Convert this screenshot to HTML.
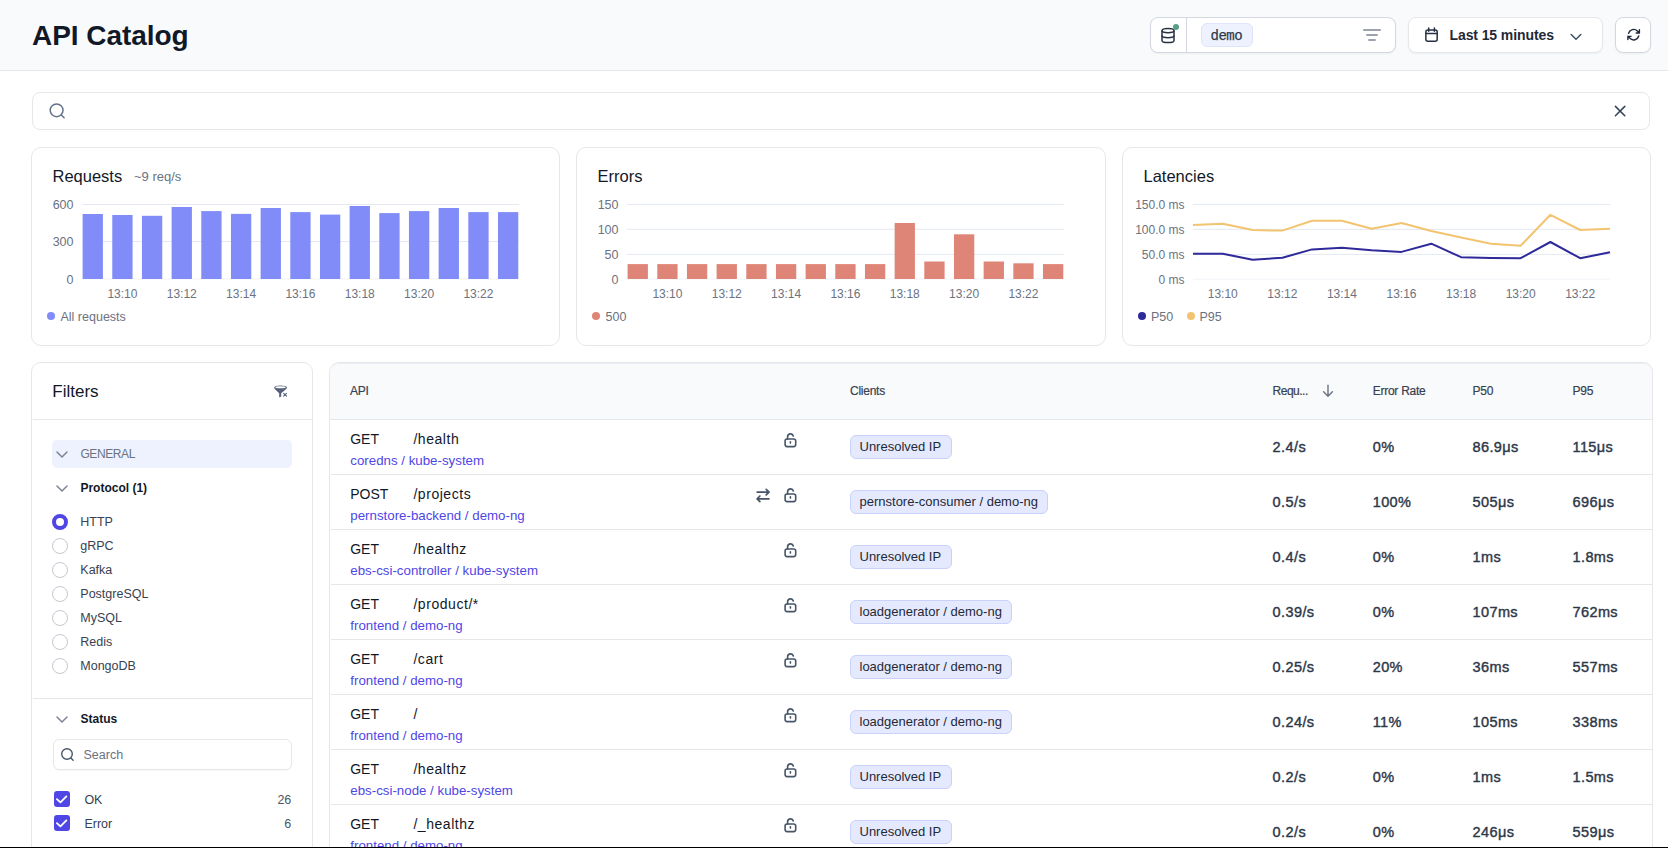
<!DOCTYPE html>
<html><head><meta charset="utf-8"><title>API Catalog</title>
<style>
html,body{margin:0;padding:0;}
body{width:1668px;height:848px;overflow:hidden;position:relative;background:#fff;font-family:'Liberation Sans', sans-serif;}
.t{position:absolute;white-space:nowrap;}
.chip{position:absolute;height:24px;box-sizing:border-box;padding:0 9.5px 0 8.5px;background:#e5e9fd;border:1px solid #c9d1fa;border-radius:6px;font-size:13px;line-height:22px;color:#1f2937;white-space:nowrap;font-family:'Liberation Sans', sans-serif;}
</style></head><body>
<div style="position:absolute;left:0px;top:0px;width:1668px;height:71px;box-sizing:border-box;background:#f9fafb;border-bottom:1px solid #e5e7eb"></div>
<div class="t" style="left:32px;top:17.79px;font-size:28px;line-height:35px;color:#111827;font-weight:700;font-family:'Liberation Sans', sans-serif;letter-spacing:-0.05px;">API Catalog</div>
<div style="position:absolute;left:1150px;top:17px;width:246px;height:36px;box-sizing:border-box;background:#fff;border:1px solid #d4d7e0;border-radius:8px;box-shadow:0 1px 2px rgba(16,24,40,0.05)"></div>
<div style="position:absolute;left:1186px;top:18px;width:1px;height:34.5px;box-sizing:border-box;background:#d4d7e0"></div>
<svg style="position:absolute;left:1160px;top:26.6px;overflow:visible" width="16" height="17" viewBox="0 0 16 17"><g fill="none" stroke="#283044" stroke-width="1.5"><ellipse cx="8" cy="3.6" rx="6" ry="2.2"/><path d="M2 3.6v9.8c0 1.2 2.7 2.2 6 2.2s6-1 6-2.2V3.6"/><path d="M2 8.5c0 1.2 2.7 2.2 6 2.2s6-1 6-2.2"/></g></svg>
<div style="position:absolute;left:1173px;top:24px;width:6px;height:6px;box-sizing:border-box;background:#5a9e85;border-radius:50%"></div>
<div style="position:absolute;left:1201px;top:23px;width:51.5px;height:24px;box-sizing:border-box;background:#eef2ff;border:1px solid #dfe4fb;border-radius:6px"></div>
<div class="t" style="left:1210.5px;top:27.35px;font-size:14px;line-height:18px;color:#2f3a4b;font-weight:400;font-family:'Liberation Mono', monospace;letter-spacing:-0.5px;-webkit-text-stroke:0.25px #2f3a4b;">demo</div>
<div style="position:absolute;left:1363.3px;top:29.1px;width:17.4px;height:1.7px;box-sizing:border-box;background:#9ca3af;border-radius:1px"></div>
<div style="position:absolute;left:1366.2px;top:34.1px;width:11.6px;height:1.7px;box-sizing:border-box;background:#9ca3af;border-radius:1px"></div>
<div style="position:absolute;left:1368.3px;top:39.1px;width:7.3px;height:1.7px;box-sizing:border-box;background:#9ca3af;border-radius:1px"></div>
<div style="position:absolute;left:1408px;top:17px;width:195px;height:36px;box-sizing:border-box;background:#fff;border:1px solid #e5e7eb;border-radius:8px;box-shadow:0 1px 2px rgba(16,24,40,0.05)"></div>
<svg style="position:absolute;left:1424.5px;top:26.5px;overflow:visible" width="14" height="16" viewBox="0 0 14 16"><g fill="none" stroke="#283044" stroke-width="1.5" stroke-linecap="round"><rect x="0.85" y="2.95" width="11.35" height="11.2" rx="2"/><path d="M0.85 6.6h11.35M3.7 1v3.2M9.4 1v3.2"/></g></svg>
<div class="t" style="left:1449.5px;top:26.15px;font-size:14px;line-height:18px;color:#1f2937;font-weight:700;font-family:'Liberation Sans', sans-serif;letter-spacing:-0.1px;">Last 15 minutes</div>
<svg style="position:absolute;left:1570px;top:32.5px;overflow:visible" width="12" height="8" viewBox="0 0 12 8"><path d="M1.2 1.5l4.8 4.8 4.8-4.8" fill="none" stroke="#475569" stroke-width="1.6" stroke-linecap="round" stroke-linejoin="round"/></svg>
<div style="position:absolute;left:1615px;top:17px;width:36px;height:36px;box-sizing:border-box;background:#fff;border:1px solid #d4d7e0;border-radius:8px;box-shadow:0 1px 2px rgba(16,24,40,0.05)"></div>
<svg style="position:absolute;left:1625.6px;top:27.2px" width="15.3" height="15.3" viewBox="0 0 24 24"><path d="M16.023 9.348h4.992v-.001M2.985 19.644v-4.992m0 0h4.992m-4.993 0l3.181 3.183a8.25 8.25 0 0013.803-3.7M4.031 9.865a8.25 8.25 0 0113.803-3.7l3.181 3.182m0-4.991v4.99" fill="none" stroke="#1e293b" stroke-width="2.2" stroke-linecap="round" stroke-linejoin="round"/></svg>
<div style="position:absolute;left:32px;top:92px;width:1618px;height:38px;box-sizing:border-box;background:#fff;border:1px solid #e5e7eb;border-radius:8px"></div>
<svg style="position:absolute;left:48px;top:102px;overflow:visible" width="18" height="18" viewBox="0 0 18 18"><g fill="none" stroke="#64748b" stroke-width="1.5" stroke-linecap="round"><circle cx="8.6" cy="8.3" r="6.4"/><path d="M13.3 13l2.8 2.8"/></g></svg>
<svg style="position:absolute;left:1613px;top:104px;overflow:visible" width="14" height="14" viewBox="0 0 14 14"><path d="M2.4 2.4l9.4 9.4M11.8 2.4l-9.4 9.4" fill="none" stroke="#334155" stroke-width="1.5" stroke-linecap="round"/></svg>
<div style="position:absolute;left:31px;top:147px;width:529px;height:199px;box-sizing:border-box;background:#fff;border:1px solid #e5e7eb;border-radius:10px"></div>
<div style="position:absolute;left:576px;top:147px;width:530px;height:199px;box-sizing:border-box;background:#fff;border:1px solid #e5e7eb;border-radius:10px"></div>
<div style="position:absolute;left:1122px;top:147px;width:529px;height:199px;box-sizing:border-box;background:#fff;border:1px solid #e5e7eb;border-radius:10px"></div>
<div class="t" style="left:52.5px;top:165.78px;font-size:16.5px;line-height:21px;color:#111827;font-weight:400;font-family:'Liberation Sans', sans-serif;">Requests</div>
<div class="t" style="left:134px;top:168.99px;font-size:13px;line-height:16px;color:#6b7280;font-weight:400;font-family:'Liberation Sans', sans-serif;">~9 req/s</div>
<div class="t" style="right:1594.5px;top:197.47px;font-size:12.5px;line-height:16px;color:#6b7280;font-weight:400;font-family:'Liberation Sans', sans-serif;">600</div>
<div class="t" style="right:1594.5px;top:234.47px;font-size:12.5px;line-height:16px;color:#6b7280;font-weight:400;font-family:'Liberation Sans', sans-serif;">300</div>
<div class="t" style="right:1594.5px;top:271.77px;font-size:12.5px;line-height:16px;color:#6b7280;font-weight:400;font-family:'Liberation Sans', sans-serif;">0</div>
<svg style="position:absolute;left:0px;top:0px;overflow:visible" width="1668" height="400" viewBox="0 0 1668 400"><path d="M82 204.5H519" stroke="#e3e8f2" stroke-width="1"/><path d="M82 241.5H519" stroke="#e3e8f2" stroke-width="1"/><path d="M82 279H519" stroke="#f1f3f8" stroke-width="1"/><rect x="82.60" y="214" width="20.3" height="65.0" fill="#818cf8"/><rect x="112.27" y="215" width="20.3" height="64.0" fill="#818cf8"/><rect x="141.94" y="215.8" width="20.3" height="63.2" fill="#818cf8"/><rect x="171.61" y="207" width="20.3" height="72.0" fill="#818cf8"/><rect x="201.28" y="211.1" width="20.3" height="67.9" fill="#818cf8"/><rect x="230.95" y="213.9" width="20.3" height="65.1" fill="#818cf8"/><rect x="260.62" y="208" width="20.3" height="71.0" fill="#818cf8"/><rect x="290.29" y="212.1" width="20.3" height="66.9" fill="#818cf8"/><rect x="319.96" y="214.6" width="20.3" height="64.4" fill="#818cf8"/><rect x="349.63" y="206" width="20.3" height="73.0" fill="#818cf8"/><rect x="379.30" y="213.1" width="20.3" height="65.9" fill="#818cf8"/><rect x="408.97" y="211.1" width="20.3" height="67.9" fill="#818cf8"/><rect x="438.64" y="208" width="20.3" height="71.0" fill="#818cf8"/><rect x="468.31" y="212.1" width="20.3" height="66.9" fill="#818cf8"/><rect x="497.98" y="212.1" width="20.3" height="66.9" fill="#818cf8"/></svg>
<div class="t" style="left:-27.58px;width:300px;text-align:center;top:287.34px;font-size:12px;line-height:15px;color:#6b7280;font-weight:400;font-family:'Liberation Sans', sans-serif;">13:10</div>
<div class="t" style="left:31.75999999999999px;width:300px;text-align:center;top:287.34px;font-size:12px;line-height:15px;color:#6b7280;font-weight:400;font-family:'Liberation Sans', sans-serif;">13:12</div>
<div class="t" style="left:91.10000000000002px;width:300px;text-align:center;top:287.34px;font-size:12px;line-height:15px;color:#6b7280;font-weight:400;font-family:'Liberation Sans', sans-serif;">13:14</div>
<div class="t" style="left:150.44px;width:300px;text-align:center;top:287.34px;font-size:12px;line-height:15px;color:#6b7280;font-weight:400;font-family:'Liberation Sans', sans-serif;">13:16</div>
<div class="t" style="left:209.78000000000003px;width:300px;text-align:center;top:287.34px;font-size:12px;line-height:15px;color:#6b7280;font-weight:400;font-family:'Liberation Sans', sans-serif;">13:18</div>
<div class="t" style="left:269.12px;width:300px;text-align:center;top:287.34px;font-size:12px;line-height:15px;color:#6b7280;font-weight:400;font-family:'Liberation Sans', sans-serif;">13:20</div>
<div class="t" style="left:328.46000000000004px;width:300px;text-align:center;top:287.34px;font-size:12px;line-height:15px;color:#6b7280;font-weight:400;font-family:'Liberation Sans', sans-serif;">13:22</div>
<div style="position:absolute;left:47px;top:312px;width:8px;height:8px;box-sizing:border-box;background:#818cf8;border-radius:50%"></div>
<div class="t" style="left:60.5px;top:308.97px;font-size:12.5px;line-height:16px;color:#6b7280;font-weight:400;font-family:'Liberation Sans', sans-serif;">All requests</div>
<div class="t" style="left:597.5px;top:165.78px;font-size:16.5px;line-height:21px;color:#111827;font-weight:400;font-family:'Liberation Sans', sans-serif;">Errors</div>
<div class="t" style="right:1049.5px;top:197.37px;font-size:12.5px;line-height:16px;color:#6b7280;font-weight:400;font-family:'Liberation Sans', sans-serif;">150</div>
<div class="t" style="right:1049.5px;top:222.27px;font-size:12.5px;line-height:16px;color:#6b7280;font-weight:400;font-family:'Liberation Sans', sans-serif;">100</div>
<div class="t" style="right:1049.5px;top:247.37px;font-size:12.5px;line-height:16px;color:#6b7280;font-weight:400;font-family:'Liberation Sans', sans-serif;">50</div>
<div class="t" style="right:1049.5px;top:271.97px;font-size:12.5px;line-height:16px;color:#6b7280;font-weight:400;font-family:'Liberation Sans', sans-serif;">0</div>
<svg style="position:absolute;left:0px;top:0px;overflow:visible" width="1668" height="400" viewBox="0 0 1668 400"><path d="M627 204.4H1064" stroke="#e3e8f2" stroke-width="1"/><path d="M627 229.3H1064" stroke="#e3e8f2" stroke-width="1"/><path d="M627 254.4H1064" stroke="#e3e8f2" stroke-width="1"/><path d="M627 279H1064" stroke="#f1f3f8" stroke-width="1"/><rect x="627.60" y="264.1" width="20.3" height="14.9" fill="#df8577"/><rect x="657.27" y="264.1" width="20.3" height="14.9" fill="#df8577"/><rect x="686.94" y="264.1" width="20.3" height="14.9" fill="#df8577"/><rect x="716.61" y="264.1" width="20.3" height="14.9" fill="#df8577"/><rect x="746.28" y="264.1" width="20.3" height="14.9" fill="#df8577"/><rect x="775.95" y="264.1" width="20.3" height="14.9" fill="#df8577"/><rect x="805.62" y="264.1" width="20.3" height="14.9" fill="#df8577"/><rect x="835.29" y="264.1" width="20.3" height="14.9" fill="#df8577"/><rect x="864.96" y="264.1" width="20.3" height="14.9" fill="#df8577"/><rect x="894.63" y="223" width="20.3" height="56.0" fill="#df8577"/><rect x="924.30" y="261.5" width="20.3" height="17.5" fill="#df8577"/><rect x="953.97" y="234.3" width="20.3" height="44.7" fill="#df8577"/><rect x="983.64" y="261.5" width="20.3" height="17.5" fill="#df8577"/><rect x="1013.31" y="263.3" width="20.3" height="15.7" fill="#df8577"/><rect x="1042.98" y="264.1" width="20.3" height="14.9" fill="#df8577"/></svg>
<div class="t" style="left:517.42px;width:300px;text-align:center;top:287.34px;font-size:12px;line-height:15px;color:#6b7280;font-weight:400;font-family:'Liberation Sans', sans-serif;">13:10</div>
<div class="t" style="left:576.76px;width:300px;text-align:center;top:287.34px;font-size:12px;line-height:15px;color:#6b7280;font-weight:400;font-family:'Liberation Sans', sans-serif;">13:12</div>
<div class="t" style="left:636.1px;width:300px;text-align:center;top:287.34px;font-size:12px;line-height:15px;color:#6b7280;font-weight:400;font-family:'Liberation Sans', sans-serif;">13:14</div>
<div class="t" style="left:695.44px;width:300px;text-align:center;top:287.34px;font-size:12px;line-height:15px;color:#6b7280;font-weight:400;font-family:'Liberation Sans', sans-serif;">13:16</div>
<div class="t" style="left:754.78px;width:300px;text-align:center;top:287.34px;font-size:12px;line-height:15px;color:#6b7280;font-weight:400;font-family:'Liberation Sans', sans-serif;">13:18</div>
<div class="t" style="left:814.12px;width:300px;text-align:center;top:287.34px;font-size:12px;line-height:15px;color:#6b7280;font-weight:400;font-family:'Liberation Sans', sans-serif;">13:20</div>
<div class="t" style="left:873.46px;width:300px;text-align:center;top:287.34px;font-size:12px;line-height:15px;color:#6b7280;font-weight:400;font-family:'Liberation Sans', sans-serif;">13:22</div>
<div style="position:absolute;left:592px;top:312px;width:8px;height:8px;box-sizing:border-box;background:#df8577;border-radius:50%"></div>
<div class="t" style="left:605.5px;top:308.97px;font-size:12.5px;line-height:16px;color:#6b7280;font-weight:400;font-family:'Liberation Sans', sans-serif;">500</div>
<div class="t" style="left:1143.5px;top:165.78px;font-size:16.5px;line-height:21px;color:#111827;font-weight:400;font-family:'Liberation Sans', sans-serif;">Latencies</div>
<div class="t" style="right:483.5px;top:198.04px;font-size:12px;line-height:15px;color:#6b7280;font-weight:400;font-family:'Liberation Sans', sans-serif;">150.0 ms</div>
<div class="t" style="right:483.5px;top:222.94px;font-size:12px;line-height:15px;color:#6b7280;font-weight:400;font-family:'Liberation Sans', sans-serif;">100.0 ms</div>
<div class="t" style="right:483.5px;top:248.04px;font-size:12px;line-height:15px;color:#6b7280;font-weight:400;font-family:'Liberation Sans', sans-serif;">50.0 ms</div>
<div class="t" style="right:483.5px;top:272.84px;font-size:12px;line-height:15px;color:#6b7280;font-weight:400;font-family:'Liberation Sans', sans-serif;">0 ms</div>
<svg style="position:absolute;left:0px;top:0px;overflow:visible" width="1668" height="400" viewBox="0 0 1668 400"><path d="M1193 204.4H1610" stroke="#e3e8f2" stroke-width="1"/><path d="M1193 229.3H1610" stroke="#e3e8f2" stroke-width="1"/><path d="M1193 254.4H1610" stroke="#e3e8f2" stroke-width="1"/><path d="M1193 279.2H1610" stroke="#f1f3f8" stroke-width="1"/><polyline points="1193.0,225.0 1222.8,223.8 1252.6,230.1 1282.4,230.6 1312.1,220.7 1341.9,220.7 1371.7,228.8 1401.5,223.0 1431.3,231.0 1461.1,237.5 1490.9,243.7 1520.6,245.8 1550.4,214.8 1580.2,230.0 1610.0,228.8" fill="none" stroke="#f3c46f" stroke-width="2" stroke-linejoin="round"/><polyline points="1193.0,253.7 1222.8,253.7 1252.6,259.7 1282.4,257.7 1312.1,249.4 1341.9,247.8 1371.7,250.3 1401.5,251.9 1431.3,243.7 1461.1,257.2 1490.9,258.0 1520.6,258.2 1550.4,242.0 1580.2,258.2 1610.0,252.3" fill="none" stroke="#2f2a99" stroke-width="2" stroke-linejoin="round"/></svg>
<div class="t" style="left:1072.786px;width:300px;text-align:center;top:287.34px;font-size:12px;line-height:15px;color:#6b7280;font-weight:400;font-family:'Liberation Sans', sans-serif;">13:10</div>
<div class="t" style="left:1132.358px;width:300px;text-align:center;top:287.34px;font-size:12px;line-height:15px;color:#6b7280;font-weight:400;font-family:'Liberation Sans', sans-serif;">13:12</div>
<div class="t" style="left:1191.93px;width:300px;text-align:center;top:287.34px;font-size:12px;line-height:15px;color:#6b7280;font-weight:400;font-family:'Liberation Sans', sans-serif;">13:14</div>
<div class="t" style="left:1251.502px;width:300px;text-align:center;top:287.34px;font-size:12px;line-height:15px;color:#6b7280;font-weight:400;font-family:'Liberation Sans', sans-serif;">13:16</div>
<div class="t" style="left:1311.074px;width:300px;text-align:center;top:287.34px;font-size:12px;line-height:15px;color:#6b7280;font-weight:400;font-family:'Liberation Sans', sans-serif;">13:18</div>
<div class="t" style="left:1370.646px;width:300px;text-align:center;top:287.34px;font-size:12px;line-height:15px;color:#6b7280;font-weight:400;font-family:'Liberation Sans', sans-serif;">13:20</div>
<div class="t" style="left:1430.218px;width:300px;text-align:center;top:287.34px;font-size:12px;line-height:15px;color:#6b7280;font-weight:400;font-family:'Liberation Sans', sans-serif;">13:22</div>
<div style="position:absolute;left:1137.5px;top:312px;width:8px;height:8px;box-sizing:border-box;background:#2f2a99;border-radius:50%"></div>
<div class="t" style="left:1151px;top:308.97px;font-size:12.5px;line-height:16px;color:#6b7280;font-weight:400;font-family:'Liberation Sans', sans-serif;">P50</div>
<div style="position:absolute;left:1186.8px;top:312px;width:8px;height:8px;box-sizing:border-box;background:#f3c46f;border-radius:50%"></div>
<div class="t" style="left:1199.5px;top:308.97px;font-size:12.5px;line-height:16px;color:#6b7280;font-weight:400;font-family:'Liberation Sans', sans-serif;">P95</div>
<div style="position:absolute;left:31px;top:362px;width:282px;height:520px;box-sizing:border-box;background:#fff;border:1px solid #e5e7eb;border-radius:10px"></div>
<div class="t" style="left:52.3px;top:380.91px;font-size:17px;line-height:21px;color:#111827;font-weight:400;font-family:'Liberation Sans', sans-serif;">Filters</div>
<svg style="position:absolute;left:272px;top:385px;overflow:visible" width="17" height="15" viewBox="0 0 17 15"><g fill="#556178"><ellipse cx="8.55" cy="2.5" rx="6.45" ry="2.1"/><path d="M2.3 3.2C3.5 5 5.5 6.6 7.2 8.2V12.4L9.2 11.6V8.2C11 6.6 13.4 5 14.8 3.2Z"/><ellipse cx="8.5" cy="2.2" rx="5.2" ry="0.95" fill="#fff"/></g><path d="M11.6 8.3l2.9 2.9M14.5 8.3l-2.9 2.9" stroke="#556178" stroke-width="1.1" stroke-linecap="round"/></svg>
<div style="position:absolute;left:32.5px;top:419px;width:279px;height:1px;box-sizing:border-box;background:#e5e7eb"></div>
<div style="position:absolute;left:52px;top:440px;width:240px;height:28px;box-sizing:border-box;background:#eef2fe;border-radius:5px"></div>
<svg style="position:absolute;left:56px;top:450.5px;overflow:visible" width="12" height="8" viewBox="0 0 12 8"><path d="M1 1l5 5 5-5" fill="none" stroke="#7b8497" stroke-width="1.5" stroke-linecap="round" stroke-linejoin="round"/></svg>
<div class="t" style="left:80.4px;top:446.74px;font-size:12px;line-height:15px;color:#6b7280;font-weight:400;font-family:'Liberation Sans', sans-serif;letter-spacing:-0.4px;">GENERAL</div>
<svg style="position:absolute;left:56px;top:484.5px;overflow:visible" width="12" height="8" viewBox="0 0 12 8"><path d="M1 1l5 5 5-5" fill="none" stroke="#7b8497" stroke-width="1.5" stroke-linecap="round" stroke-linejoin="round"/></svg>
<div class="t" style="left:80.4px;top:481.04px;font-size:12px;line-height:15px;color:#111827;font-weight:700;font-family:'Liberation Sans', sans-serif;">Protocol (1)</div>
<div style="position:absolute;left:52px;top:514px;width:16px;height:16px;box-sizing:border-box;border:4px solid #4f46e5;border-radius:50%;background:#fff"></div>
<div class="t" style="left:80.3px;top:513.97px;font-size:12.5px;line-height:16px;color:#374151;font-weight:400;font-family:'Liberation Sans', sans-serif;">HTTP</div>
<div style="position:absolute;left:52px;top:538px;width:16px;height:16px;box-sizing:border-box;border:1px solid #c5c9d2;border-radius:50%;background:#fff"></div>
<div class="t" style="left:80.3px;top:537.97px;font-size:12.5px;line-height:16px;color:#374151;font-weight:400;font-family:'Liberation Sans', sans-serif;">gRPC</div>
<div style="position:absolute;left:52px;top:562px;width:16px;height:16px;box-sizing:border-box;border:1px solid #c5c9d2;border-radius:50%;background:#fff"></div>
<div class="t" style="left:80.3px;top:561.97px;font-size:12.5px;line-height:16px;color:#374151;font-weight:400;font-family:'Liberation Sans', sans-serif;">Kafka</div>
<div style="position:absolute;left:52px;top:586px;width:16px;height:16px;box-sizing:border-box;border:1px solid #c5c9d2;border-radius:50%;background:#fff"></div>
<div class="t" style="left:80.3px;top:585.97px;font-size:12.5px;line-height:16px;color:#374151;font-weight:400;font-family:'Liberation Sans', sans-serif;">PostgreSQL</div>
<div style="position:absolute;left:52px;top:610px;width:16px;height:16px;box-sizing:border-box;border:1px solid #c5c9d2;border-radius:50%;background:#fff"></div>
<div class="t" style="left:80.3px;top:609.97px;font-size:12.5px;line-height:16px;color:#374151;font-weight:400;font-family:'Liberation Sans', sans-serif;">MySQL</div>
<div style="position:absolute;left:52px;top:634px;width:16px;height:16px;box-sizing:border-box;border:1px solid #c5c9d2;border-radius:50%;background:#fff"></div>
<div class="t" style="left:80.3px;top:633.97px;font-size:12.5px;line-height:16px;color:#374151;font-weight:400;font-family:'Liberation Sans', sans-serif;">Redis</div>
<div style="position:absolute;left:52px;top:658px;width:16px;height:16px;box-sizing:border-box;border:1px solid #c5c9d2;border-radius:50%;background:#fff"></div>
<div class="t" style="left:80.3px;top:657.97px;font-size:12.5px;line-height:16px;color:#374151;font-weight:400;font-family:'Liberation Sans', sans-serif;">MongoDB</div>
<div style="position:absolute;left:32.5px;top:698px;width:279px;height:1px;box-sizing:border-box;background:#e5e7eb"></div>
<svg style="position:absolute;left:56px;top:715.5px;overflow:visible" width="12" height="8" viewBox="0 0 12 8"><path d="M1 1l5 5 5-5" fill="none" stroke="#7b8497" stroke-width="1.5" stroke-linecap="round" stroke-linejoin="round"/></svg>
<div class="t" style="left:80.5px;top:711.54px;font-size:12px;line-height:15px;color:#111827;font-weight:700;font-family:'Liberation Sans', sans-serif;">Status</div>
<div style="position:absolute;left:52.5px;top:738.5px;width:239.5px;height:31.5px;box-sizing:border-box;background:#fff;border:1px solid #e5e7eb;border-radius:6px;box-shadow:0 1px 1px rgba(16,24,40,0.03)"></div>
<svg style="position:absolute;left:59.5px;top:746.5px;overflow:visible" width="16" height="16" viewBox="0 0 16 16"><g fill="none" stroke="#475569" stroke-width="1.4" stroke-linecap="round"><circle cx="7.0" cy="7.0" r="5.3"/><path d="M10.9 11l2.2 2.2"/></g></svg>
<div class="t" style="left:83.5px;top:746.97px;font-size:12.5px;line-height:16px;color:#6b7280;font-weight:400;font-family:'Liberation Sans', sans-serif;">Search</div>
<div style="position:absolute;left:54px;top:791.3px;width:16px;height:16px;box-sizing:border-box;background:#4f46e5;border-radius:3px"></div>
<svg style="position:absolute;left:54px;top:791.3px;overflow:visible" width="16" height="16" viewBox="0 0 16 16"><path d="M2.9 8.1l3.5 3.3 6-6" fill="none" stroke="#fff" stroke-width="1.8" stroke-linecap="round" stroke-linejoin="round"/></svg>
<div class="t" style="left:84.4px;top:791.87px;font-size:12.5px;line-height:16px;color:#374151;font-weight:400;font-family:'Liberation Sans', sans-serif;">OK</div>
<div class="t" style="right:1376.7px;top:791.87px;font-size:12.5px;line-height:16px;color:#4b5563;font-weight:400;font-family:'Liberation Sans', sans-serif;">26</div>
<div style="position:absolute;left:54px;top:815.3px;width:16px;height:16px;box-sizing:border-box;background:#4f46e5;border-radius:3px"></div>
<svg style="position:absolute;left:54px;top:815.3px;overflow:visible" width="16" height="16" viewBox="0 0 16 16"><path d="M2.9 8.1l3.5 3.3 6-6" fill="none" stroke="#fff" stroke-width="1.8" stroke-linecap="round" stroke-linejoin="round"/></svg>
<div class="t" style="left:84.4px;top:815.87px;font-size:12.5px;line-height:16px;color:#374151;font-weight:400;font-family:'Liberation Sans', sans-serif;">Error</div>
<div class="t" style="right:1376.7px;top:815.87px;font-size:12.5px;line-height:16px;color:#4b5563;font-weight:400;font-family:'Liberation Sans', sans-serif;">6</div>
<div style="position:absolute;left:329px;top:362px;width:1324px;height:520px;box-sizing:border-box;background:#fff;border:1px solid #e5e7eb;border-radius:10px;overflow:hidden"></div>
<div style="position:absolute;left:330px;top:363px;width:1322px;height:57px;box-sizing:border-box;background:#f9fafb;border-radius:9px 9px 0 0;border-bottom:1px solid #e5e7eb;border-top:1px solid #eceef3"></div>
<div class="t" style="left:350.1px;top:383.94px;font-size:12px;line-height:15px;color:#374151;font-weight:400;font-family:'Liberation Sans', sans-serif;letter-spacing:-0.25px;-webkit-text-stroke:0.2px #374151;">API</div>
<div class="t" style="left:850px;top:383.94px;font-size:12px;line-height:15px;color:#374151;font-weight:400;font-family:'Liberation Sans', sans-serif;letter-spacing:-0.25px;-webkit-text-stroke:0.2px #374151;">Clients</div>
<div class="t" style="left:1272.6px;top:383.94px;font-size:12px;line-height:15px;color:#374151;font-weight:400;font-family:'Liberation Sans', sans-serif;letter-spacing:-0.5px;-webkit-text-stroke:0.2px #374151;">Requ...</div>
<svg style="position:absolute;left:1320px;top:384px;overflow:visible" width="16" height="14" viewBox="0 0 16 14"><path d="M8 1.2v11M3.6 7.8L8 12.2l4.4-4.4" fill="none" stroke="#6b7280" stroke-width="1.4" stroke-linecap="round" stroke-linejoin="round"/></svg>
<div class="t" style="left:1372.7px;top:383.94px;font-size:12px;line-height:15px;color:#374151;font-weight:400;font-family:'Liberation Sans', sans-serif;letter-spacing:-0.25px;-webkit-text-stroke:0.2px #374151;">Error Rate</div>
<div class="t" style="left:1472.5px;top:383.94px;font-size:12px;line-height:15px;color:#374151;font-weight:400;font-family:'Liberation Sans', sans-serif;letter-spacing:-0.25px;-webkit-text-stroke:0.2px #374151;">P50</div>
<div class="t" style="left:1572.5px;top:383.94px;font-size:12px;line-height:15px;color:#374151;font-weight:400;font-family:'Liberation Sans', sans-serif;letter-spacing:-0.25px;-webkit-text-stroke:0.2px #374151;">P95</div>
<div class="t" style="left:350.2px;top:430.05px;font-size:14px;line-height:18px;color:#111827;font-weight:400;font-family:'Liberation Sans', sans-serif;">GET</div>
<div class="t" style="left:413.4px;top:430.05px;font-size:14px;line-height:18px;color:#111827;font-weight:400;font-family:'Liberation Sans', sans-serif;letter-spacing:0.55px;">/health</div>
<div class="t" style="left:350.3px;top:452.19px;font-size:13.3px;line-height:17px;color:#4f46e5;font-weight:400;font-family:'Liberation Sans', sans-serif;">coredns / kube-system</div>
<svg style="position:absolute;left:783.5px;top:432.5px;overflow:visible" width="13" height="15" viewBox="0 0 13 15"><g fill="none" stroke="#475569" stroke-width="1.6" stroke-linecap="round" stroke-linejoin="round"><rect x="1.1" y="6" width="10.6" height="7.6" rx="2"/><path d="M3.6 6V3.8a2.9 2.9 0 0 1 5.7-.8"/><path d="M6.4 8.8v1.3"/></g></svg>
<div class="chip" style="left:850px;top:435.3px">Unresolved IP</div>
<div class="t" style="left:1272.6px;top:437.67px;font-size:14.5px;line-height:18px;color:#2d3748;font-weight:400;font-family:'Liberation Sans', sans-serif;letter-spacing:0.4px;-webkit-text-stroke:0.4px #2d3748;">2.4/s</div>
<div class="t" style="left:1372.7px;top:437.67px;font-size:14.5px;line-height:18px;color:#2d3748;font-weight:400;font-family:'Liberation Sans', sans-serif;letter-spacing:0.4px;-webkit-text-stroke:0.4px #2d3748;">0%</div>
<div class="t" style="left:1472.5px;top:437.67px;font-size:14.5px;line-height:18px;color:#2d3748;font-weight:400;font-family:'Liberation Sans', sans-serif;letter-spacing:0.4px;-webkit-text-stroke:0.4px #2d3748;">86.9μs</div>
<div class="t" style="left:1572.5px;top:437.67px;font-size:14.5px;line-height:18px;color:#2d3748;font-weight:400;font-family:'Liberation Sans', sans-serif;letter-spacing:0.4px;-webkit-text-stroke:0.4px #2d3748;">115μs</div>
<div style="position:absolute;left:330.5px;top:474.0px;width:1321.5px;height:1px;box-sizing:border-box;background:#e5e7eb"></div>
<div class="t" style="left:350.2px;top:485.05px;font-size:14px;line-height:18px;color:#111827;font-weight:400;font-family:'Liberation Sans', sans-serif;">POST</div>
<div class="t" style="left:413.4px;top:485.05px;font-size:14px;line-height:18px;color:#111827;font-weight:400;font-family:'Liberation Sans', sans-serif;letter-spacing:0.55px;">/projects</div>
<div class="t" style="left:350.3px;top:507.19px;font-size:13.3px;line-height:17px;color:#4f46e5;font-weight:400;font-family:'Liberation Sans', sans-serif;">pernstore-backend / demo-ng</div>
<svg style="position:absolute;left:783.5px;top:487.5px;overflow:visible" width="13" height="15" viewBox="0 0 13 15"><g fill="none" stroke="#475569" stroke-width="1.6" stroke-linecap="round" stroke-linejoin="round"><rect x="1.1" y="6" width="10.6" height="7.6" rx="2"/><path d="M3.6 6V3.8a2.9 2.9 0 0 1 5.7-.8"/><path d="M6.4 8.8v1.3"/></g></svg>
<svg style="position:absolute;left:755.7px;top:487.7px;overflow:visible" width="14" height="15" viewBox="0 0 14 15"><g fill="none" stroke="#475569" stroke-width="1.7" stroke-linecap="round" stroke-linejoin="round"><path d="M1.2 4.1h11.7M10.2 1.3l2.8 2.8-2.8 2.8M12.9 10.8H1.2M3.9 8l-2.8 2.8 2.8 2.8"/></g></svg>
<div class="chip" style="left:850px;top:490.3px">pernstore-consumer / demo-ng</div>
<div class="t" style="left:1272.6px;top:492.67px;font-size:14.5px;line-height:18px;color:#2d3748;font-weight:400;font-family:'Liberation Sans', sans-serif;letter-spacing:0.4px;-webkit-text-stroke:0.4px #2d3748;">0.5/s</div>
<div class="t" style="left:1372.7px;top:492.67px;font-size:14.5px;line-height:18px;color:#2d3748;font-weight:400;font-family:'Liberation Sans', sans-serif;letter-spacing:0.4px;-webkit-text-stroke:0.4px #2d3748;">100%</div>
<div class="t" style="left:1472.5px;top:492.67px;font-size:14.5px;line-height:18px;color:#2d3748;font-weight:400;font-family:'Liberation Sans', sans-serif;letter-spacing:0.4px;-webkit-text-stroke:0.4px #2d3748;">505μs</div>
<div class="t" style="left:1572.5px;top:492.67px;font-size:14.5px;line-height:18px;color:#2d3748;font-weight:400;font-family:'Liberation Sans', sans-serif;letter-spacing:0.4px;-webkit-text-stroke:0.4px #2d3748;">696μs</div>
<div style="position:absolute;left:330.5px;top:529.0px;width:1321.5px;height:1px;box-sizing:border-box;background:#e5e7eb"></div>
<div class="t" style="left:350.2px;top:540.05px;font-size:14px;line-height:18px;color:#111827;font-weight:400;font-family:'Liberation Sans', sans-serif;">GET</div>
<div class="t" style="left:413.4px;top:540.05px;font-size:14px;line-height:18px;color:#111827;font-weight:400;font-family:'Liberation Sans', sans-serif;letter-spacing:0.55px;">/healthz</div>
<div class="t" style="left:350.3px;top:562.19px;font-size:13.3px;line-height:17px;color:#4f46e5;font-weight:400;font-family:'Liberation Sans', sans-serif;">ebs-csi-controller / kube-system</div>
<svg style="position:absolute;left:783.5px;top:542.5px;overflow:visible" width="13" height="15" viewBox="0 0 13 15"><g fill="none" stroke="#475569" stroke-width="1.6" stroke-linecap="round" stroke-linejoin="round"><rect x="1.1" y="6" width="10.6" height="7.6" rx="2"/><path d="M3.6 6V3.8a2.9 2.9 0 0 1 5.7-.8"/><path d="M6.4 8.8v1.3"/></g></svg>
<div class="chip" style="left:850px;top:545.3px">Unresolved IP</div>
<div class="t" style="left:1272.6px;top:547.67px;font-size:14.5px;line-height:18px;color:#2d3748;font-weight:400;font-family:'Liberation Sans', sans-serif;letter-spacing:0.4px;-webkit-text-stroke:0.4px #2d3748;">0.4/s</div>
<div class="t" style="left:1372.7px;top:547.67px;font-size:14.5px;line-height:18px;color:#2d3748;font-weight:400;font-family:'Liberation Sans', sans-serif;letter-spacing:0.4px;-webkit-text-stroke:0.4px #2d3748;">0%</div>
<div class="t" style="left:1472.5px;top:547.67px;font-size:14.5px;line-height:18px;color:#2d3748;font-weight:400;font-family:'Liberation Sans', sans-serif;letter-spacing:0.4px;-webkit-text-stroke:0.4px #2d3748;">1ms</div>
<div class="t" style="left:1572.5px;top:547.67px;font-size:14.5px;line-height:18px;color:#2d3748;font-weight:400;font-family:'Liberation Sans', sans-serif;letter-spacing:0.4px;-webkit-text-stroke:0.4px #2d3748;">1.8ms</div>
<div style="position:absolute;left:330.5px;top:584.0px;width:1321.5px;height:1px;box-sizing:border-box;background:#e5e7eb"></div>
<div class="t" style="left:350.2px;top:595.05px;font-size:14px;line-height:18px;color:#111827;font-weight:400;font-family:'Liberation Sans', sans-serif;">GET</div>
<div class="t" style="left:413.4px;top:595.05px;font-size:14px;line-height:18px;color:#111827;font-weight:400;font-family:'Liberation Sans', sans-serif;letter-spacing:0.55px;">/product/*</div>
<div class="t" style="left:350.3px;top:617.19px;font-size:13.3px;line-height:17px;color:#4f46e5;font-weight:400;font-family:'Liberation Sans', sans-serif;">frontend / demo-ng</div>
<svg style="position:absolute;left:783.5px;top:597.5px;overflow:visible" width="13" height="15" viewBox="0 0 13 15"><g fill="none" stroke="#475569" stroke-width="1.6" stroke-linecap="round" stroke-linejoin="round"><rect x="1.1" y="6" width="10.6" height="7.6" rx="2"/><path d="M3.6 6V3.8a2.9 2.9 0 0 1 5.7-.8"/><path d="M6.4 8.8v1.3"/></g></svg>
<div class="chip" style="left:850px;top:600.3px">loadgenerator / demo-ng</div>
<div class="t" style="left:1272.6px;top:602.67px;font-size:14.5px;line-height:18px;color:#2d3748;font-weight:400;font-family:'Liberation Sans', sans-serif;letter-spacing:0.4px;-webkit-text-stroke:0.4px #2d3748;">0.39/s</div>
<div class="t" style="left:1372.7px;top:602.67px;font-size:14.5px;line-height:18px;color:#2d3748;font-weight:400;font-family:'Liberation Sans', sans-serif;letter-spacing:0.4px;-webkit-text-stroke:0.4px #2d3748;">0%</div>
<div class="t" style="left:1472.5px;top:602.67px;font-size:14.5px;line-height:18px;color:#2d3748;font-weight:400;font-family:'Liberation Sans', sans-serif;letter-spacing:0.4px;-webkit-text-stroke:0.4px #2d3748;">107ms</div>
<div class="t" style="left:1572.5px;top:602.67px;font-size:14.5px;line-height:18px;color:#2d3748;font-weight:400;font-family:'Liberation Sans', sans-serif;letter-spacing:0.4px;-webkit-text-stroke:0.4px #2d3748;">762ms</div>
<div style="position:absolute;left:330.5px;top:639.0px;width:1321.5px;height:1px;box-sizing:border-box;background:#e5e7eb"></div>
<div class="t" style="left:350.2px;top:650.05px;font-size:14px;line-height:18px;color:#111827;font-weight:400;font-family:'Liberation Sans', sans-serif;">GET</div>
<div class="t" style="left:413.4px;top:650.05px;font-size:14px;line-height:18px;color:#111827;font-weight:400;font-family:'Liberation Sans', sans-serif;letter-spacing:0.55px;">/cart</div>
<div class="t" style="left:350.3px;top:672.19px;font-size:13.3px;line-height:17px;color:#4f46e5;font-weight:400;font-family:'Liberation Sans', sans-serif;">frontend / demo-ng</div>
<svg style="position:absolute;left:783.5px;top:652.5px;overflow:visible" width="13" height="15" viewBox="0 0 13 15"><g fill="none" stroke="#475569" stroke-width="1.6" stroke-linecap="round" stroke-linejoin="round"><rect x="1.1" y="6" width="10.6" height="7.6" rx="2"/><path d="M3.6 6V3.8a2.9 2.9 0 0 1 5.7-.8"/><path d="M6.4 8.8v1.3"/></g></svg>
<div class="chip" style="left:850px;top:655.3px">loadgenerator / demo-ng</div>
<div class="t" style="left:1272.6px;top:657.67px;font-size:14.5px;line-height:18px;color:#2d3748;font-weight:400;font-family:'Liberation Sans', sans-serif;letter-spacing:0.4px;-webkit-text-stroke:0.4px #2d3748;">0.25/s</div>
<div class="t" style="left:1372.7px;top:657.67px;font-size:14.5px;line-height:18px;color:#2d3748;font-weight:400;font-family:'Liberation Sans', sans-serif;letter-spacing:0.4px;-webkit-text-stroke:0.4px #2d3748;">20%</div>
<div class="t" style="left:1472.5px;top:657.67px;font-size:14.5px;line-height:18px;color:#2d3748;font-weight:400;font-family:'Liberation Sans', sans-serif;letter-spacing:0.4px;-webkit-text-stroke:0.4px #2d3748;">36ms</div>
<div class="t" style="left:1572.5px;top:657.67px;font-size:14.5px;line-height:18px;color:#2d3748;font-weight:400;font-family:'Liberation Sans', sans-serif;letter-spacing:0.4px;-webkit-text-stroke:0.4px #2d3748;">557ms</div>
<div style="position:absolute;left:330.5px;top:694.0px;width:1321.5px;height:1px;box-sizing:border-box;background:#e5e7eb"></div>
<div class="t" style="left:350.2px;top:705.05px;font-size:14px;line-height:18px;color:#111827;font-weight:400;font-family:'Liberation Sans', sans-serif;">GET</div>
<div class="t" style="left:413.4px;top:705.05px;font-size:14px;line-height:18px;color:#111827;font-weight:400;font-family:'Liberation Sans', sans-serif;letter-spacing:0.55px;">/</div>
<div class="t" style="left:350.3px;top:727.19px;font-size:13.3px;line-height:17px;color:#4f46e5;font-weight:400;font-family:'Liberation Sans', sans-serif;">frontend / demo-ng</div>
<svg style="position:absolute;left:783.5px;top:707.5px;overflow:visible" width="13" height="15" viewBox="0 0 13 15"><g fill="none" stroke="#475569" stroke-width="1.6" stroke-linecap="round" stroke-linejoin="round"><rect x="1.1" y="6" width="10.6" height="7.6" rx="2"/><path d="M3.6 6V3.8a2.9 2.9 0 0 1 5.7-.8"/><path d="M6.4 8.8v1.3"/></g></svg>
<div class="chip" style="left:850px;top:710.3px">loadgenerator / demo-ng</div>
<div class="t" style="left:1272.6px;top:712.67px;font-size:14.5px;line-height:18px;color:#2d3748;font-weight:400;font-family:'Liberation Sans', sans-serif;letter-spacing:0.4px;-webkit-text-stroke:0.4px #2d3748;">0.24/s</div>
<div class="t" style="left:1372.7px;top:712.67px;font-size:14.5px;line-height:18px;color:#2d3748;font-weight:400;font-family:'Liberation Sans', sans-serif;letter-spacing:0.4px;-webkit-text-stroke:0.4px #2d3748;">11%</div>
<div class="t" style="left:1472.5px;top:712.67px;font-size:14.5px;line-height:18px;color:#2d3748;font-weight:400;font-family:'Liberation Sans', sans-serif;letter-spacing:0.4px;-webkit-text-stroke:0.4px #2d3748;">105ms</div>
<div class="t" style="left:1572.5px;top:712.67px;font-size:14.5px;line-height:18px;color:#2d3748;font-weight:400;font-family:'Liberation Sans', sans-serif;letter-spacing:0.4px;-webkit-text-stroke:0.4px #2d3748;">338ms</div>
<div style="position:absolute;left:330.5px;top:749.0px;width:1321.5px;height:1px;box-sizing:border-box;background:#e5e7eb"></div>
<div class="t" style="left:350.2px;top:760.05px;font-size:14px;line-height:18px;color:#111827;font-weight:400;font-family:'Liberation Sans', sans-serif;">GET</div>
<div class="t" style="left:413.4px;top:760.05px;font-size:14px;line-height:18px;color:#111827;font-weight:400;font-family:'Liberation Sans', sans-serif;letter-spacing:0.55px;">/healthz</div>
<div class="t" style="left:350.3px;top:782.19px;font-size:13.3px;line-height:17px;color:#4f46e5;font-weight:400;font-family:'Liberation Sans', sans-serif;">ebs-csi-node / kube-system</div>
<svg style="position:absolute;left:783.5px;top:762.5px;overflow:visible" width="13" height="15" viewBox="0 0 13 15"><g fill="none" stroke="#475569" stroke-width="1.6" stroke-linecap="round" stroke-linejoin="round"><rect x="1.1" y="6" width="10.6" height="7.6" rx="2"/><path d="M3.6 6V3.8a2.9 2.9 0 0 1 5.7-.8"/><path d="M6.4 8.8v1.3"/></g></svg>
<div class="chip" style="left:850px;top:765.3px">Unresolved IP</div>
<div class="t" style="left:1272.6px;top:767.67px;font-size:14.5px;line-height:18px;color:#2d3748;font-weight:400;font-family:'Liberation Sans', sans-serif;letter-spacing:0.4px;-webkit-text-stroke:0.4px #2d3748;">0.2/s</div>
<div class="t" style="left:1372.7px;top:767.67px;font-size:14.5px;line-height:18px;color:#2d3748;font-weight:400;font-family:'Liberation Sans', sans-serif;letter-spacing:0.4px;-webkit-text-stroke:0.4px #2d3748;">0%</div>
<div class="t" style="left:1472.5px;top:767.67px;font-size:14.5px;line-height:18px;color:#2d3748;font-weight:400;font-family:'Liberation Sans', sans-serif;letter-spacing:0.4px;-webkit-text-stroke:0.4px #2d3748;">1ms</div>
<div class="t" style="left:1572.5px;top:767.67px;font-size:14.5px;line-height:18px;color:#2d3748;font-weight:400;font-family:'Liberation Sans', sans-serif;letter-spacing:0.4px;-webkit-text-stroke:0.4px #2d3748;">1.5ms</div>
<div style="position:absolute;left:330.5px;top:804.0px;width:1321.5px;height:1px;box-sizing:border-box;background:#e5e7eb"></div>
<div class="t" style="left:350.2px;top:815.05px;font-size:14px;line-height:18px;color:#111827;font-weight:400;font-family:'Liberation Sans', sans-serif;">GET</div>
<div class="t" style="left:413.4px;top:815.05px;font-size:14px;line-height:18px;color:#111827;font-weight:400;font-family:'Liberation Sans', sans-serif;letter-spacing:0.55px;">/_healthz</div>
<div class="t" style="left:350.3px;top:837.19px;font-size:13.3px;line-height:17px;color:#4f46e5;font-weight:400;font-family:'Liberation Sans', sans-serif;">frontend / demo-ng</div>
<svg style="position:absolute;left:783.5px;top:817.5px;overflow:visible" width="13" height="15" viewBox="0 0 13 15"><g fill="none" stroke="#475569" stroke-width="1.6" stroke-linecap="round" stroke-linejoin="round"><rect x="1.1" y="6" width="10.6" height="7.6" rx="2"/><path d="M3.6 6V3.8a2.9 2.9 0 0 1 5.7-.8"/><path d="M6.4 8.8v1.3"/></g></svg>
<div class="chip" style="left:850px;top:820.3px">Unresolved IP</div>
<div class="t" style="left:1272.6px;top:822.67px;font-size:14.5px;line-height:18px;color:#2d3748;font-weight:400;font-family:'Liberation Sans', sans-serif;letter-spacing:0.4px;-webkit-text-stroke:0.4px #2d3748;">0.2/s</div>
<div class="t" style="left:1372.7px;top:822.67px;font-size:14.5px;line-height:18px;color:#2d3748;font-weight:400;font-family:'Liberation Sans', sans-serif;letter-spacing:0.4px;-webkit-text-stroke:0.4px #2d3748;">0%</div>
<div class="t" style="left:1472.5px;top:822.67px;font-size:14.5px;line-height:18px;color:#2d3748;font-weight:400;font-family:'Liberation Sans', sans-serif;letter-spacing:0.4px;-webkit-text-stroke:0.4px #2d3748;">246μs</div>
<div class="t" style="left:1572.5px;top:822.67px;font-size:14.5px;line-height:18px;color:#2d3748;font-weight:400;font-family:'Liberation Sans', sans-serif;letter-spacing:0.4px;-webkit-text-stroke:0.4px #2d3748;">559μs</div>
<div style="position:absolute;left:0px;top:846.8px;width:1668px;height:1.2px;box-sizing:border-box;background:#000"></div>
</body></html>
